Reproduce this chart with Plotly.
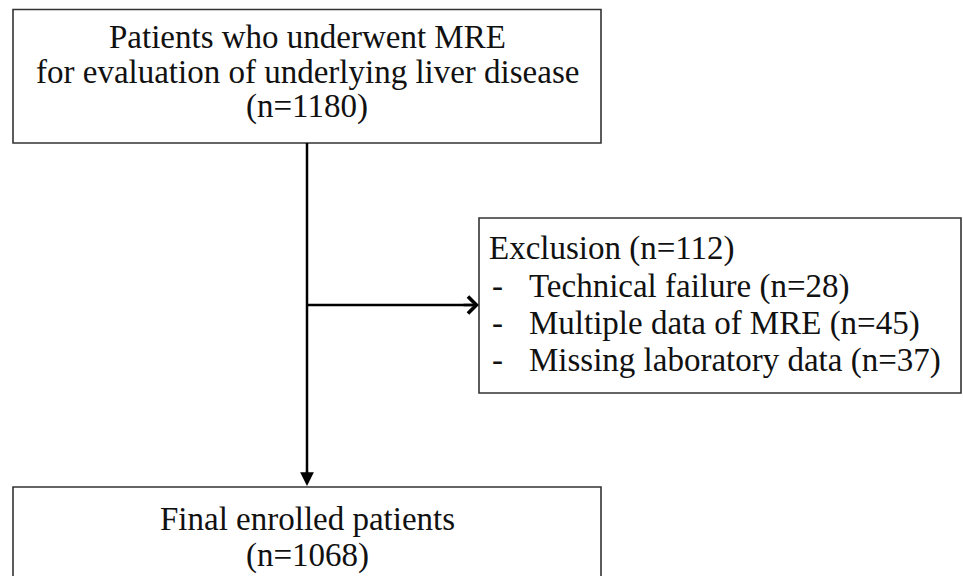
import plotly.graph_objects as go

# ---- data ----
top_lines = ["Patients who underwent MRE", "for evaluation of underlying liver disease"]
n_total = 1180
exclusion_title = "Exclusion"
n_excluded = 112
exclusion_reasons = ["Technical failure", "Multiple data of MRE", "Missing laboratory data"]
exclusion_counts = [28, 45, 37]
final_label = "Final enrolled patients"
n_final = 1068

W, H = 963, 576
FONT = dict(family="Liberation Serif, Times New Roman, serif", size=33, color="#111111")
BOX_LINE = dict(color="#333333", width=1.6)

fig = go.Figure()
fig.add_trace(go.Scatter(x=[0, W], y=[0, H], mode="markers", marker=dict(opacity=0), hoverinfo="skip", showlegend=False))

shapes = []
annotations = []

# boxes
shapes.append(dict(type="rect", x0=13, x1=961, y0=218, y1=393, line=BOX_LINE, fillcolor="white", layer="below"))
shapes[-1]["x0"] = 479
shapes.append(dict(type="rect", x0=13, x1=601, y0=9.5, y1=143, line=BOX_LINE, fillcolor="white", layer="below"))
shapes.append(dict(type="rect", x0=13, x1=601, y0=487, y1=600, line=BOX_LINE, fillcolor="white", layer="below"))

# connector lines
shapes.append(dict(type="line", x0=307, x1=307, y0=143, y1=476, line=dict(color="black", width=2.5)))
shapes.append(dict(type="line", x0=307, x1=472, y0=305, y1=305, line=dict(color="black", width=2.5)))

# arrowheads
annotations.append(dict(x=307, y=486, ax=307, ay=470, xref="x", yref="y", axref="x", ayref="y",
                        showarrow=True, arrowhead=2, arrowsize=1.1, arrowwidth=2.5, arrowcolor="black", text=""))
annotations.append(dict(x=479, y=305, ax=462, ay=305, xref="x", yref="y", axref="x", ayref="y",
                        showarrow=True, arrowhead=4, arrowsize=1.3, arrowwidth=2.5, arrowcolor="black", text=""))

def txt(x, y, s, xanchor="center"):
    annotations.append(dict(x=x, y=y, xref="x", yref="y", text=s, showarrow=False,
                            xanchor=xanchor, yanchor="middle", font=FONT))

# top box text
top_all = top_lines + [f"(n={n_total})"]
for i, s in enumerate(top_all):
    txt(307, 37 + i * 34.5, s)

# exclusion box text
txt(487, 248, f"{exclusion_title} (n={n_excluded})", "left")
for i, (r, c) in enumerate(zip(exclusion_reasons, exclusion_counts)):
    y = 286 + i * 37
    txt(490, y, "-", "left")
    txt(527, y, f"{r} (n={c})", "left")

# bottom box text
txt(307, 519, final_label)
txt(307, 555, f"(n={n_final})")

fig.update_layout(
    width=W, height=H, margin=dict(l=0, r=0, t=0, b=0),
    paper_bgcolor="white", plot_bgcolor="white",
    xaxis=dict(range=[0, W], visible=False, fixedrange=True),
    yaxis=dict(range=[H, 0], visible=False, fixedrange=True),
    shapes=shapes, annotations=annotations, showlegend=False,
)
fig.write_html("out.html", config={"displayModeBar": False},
               post_script="document.body.style.margin='0';document.body.style.overflow='hidden';")
